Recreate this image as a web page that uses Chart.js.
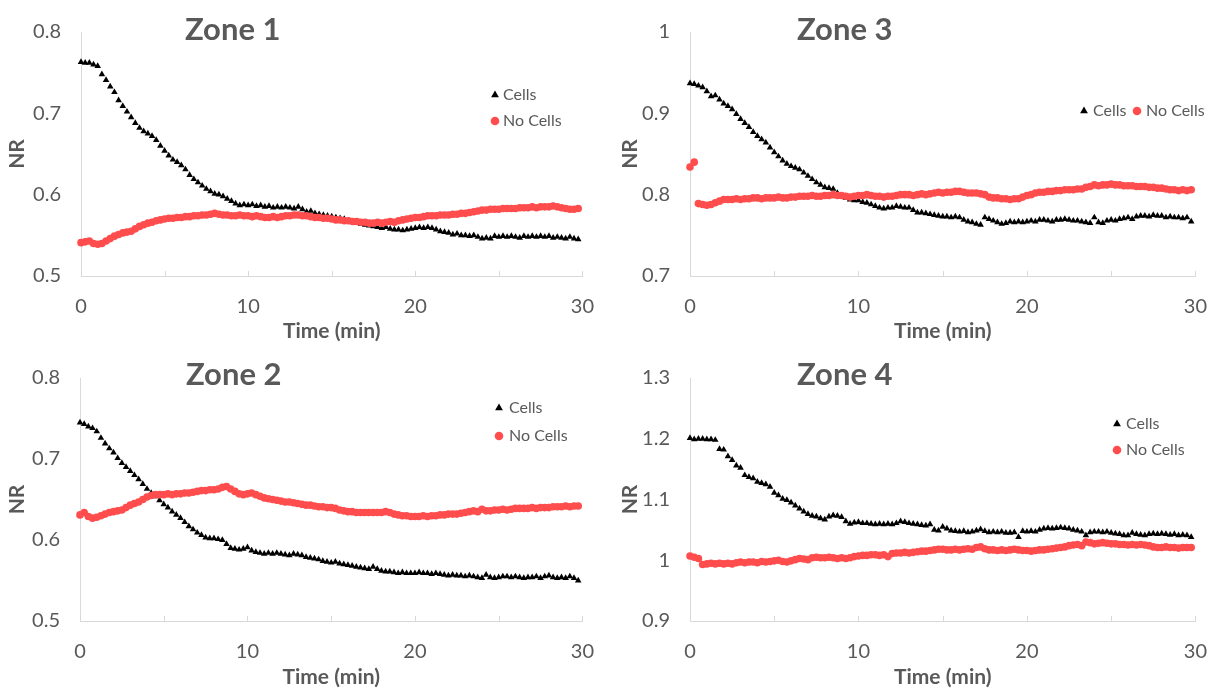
<!DOCTYPE html>
<html>
<head>
<meta charset="utf-8">
<script src="https://cdn.jsdelivr.net/npm/chart.js@4.4.1/dist/chart.umd.min.js"></script>
<style>
  html, body { margin: 0; padding: 0; background: #ffffff; }
  body { width: 1226px; height: 692px; position: relative; overflow: hidden; }
  canvas { position: absolute; }
</style>
</head>
<body>
<canvas id="zone1" width="613" height="346" style="left:0px;top:0px"></canvas>
<canvas id="zone3" width="613" height="346" style="left:613px;top:0px"></canvas>
<canvas id="zone2" width="613" height="346" style="left:0px;top:346px"></canvas>
<canvas id="zone4" width="613" height="346" style="left:613px;top:346px"></canvas>
<script>
// Sampling times (min), one reading every 15 s
const times = [
  0,0.25,0.5,0.75,1,1.25,1.5,1.75,2,2.25,2.5,2.75,3,3.25,3.5,3.75,4,4.25,4.5,4.75,
  5,5.25,5.5,5.75,6,6.25,6.5,6.75,7,7.25,7.5,7.75,8,8.25,8.5,8.75,9,9.25,9.5,9.75,
  10,10.25,10.5,10.75,11,11.25,11.5,11.75,12,12.25,12.5,12.75,13,13.25,13.5,13.75,14,14.25,14.5,14.75,
  15,15.25,15.5,15.75,16,16.25,16.5,16.75,17,17.25,17.5,17.75,18,18.25,18.5,18.75,19,19.25,19.5,19.75,
  20,20.25,20.5,20.75,21,21.25,21.5,21.75,22,22.25,22.5,22.75,23,23.25,23.5,23.75,24,24.25,24.5,24.75,
  25,25.25,25.5,25.75,26,26.25,26.5,26.75,27,27.25,27.5,27.75,28,28.25,28.5,28.75,29,29.25,29.5,29.75
];

const seriesNames = ['Cells', 'No Cells'];
const xTickLabels = [0, 10, 20, 30];

// Zone 1 normalized ratio
const zone1Cells = [
  .763,.762,.762,.760,.758,.748,.741,.733,.726,.716,
  .709,.702,.695,.688,.682,.678,.675,.672,.667,.660,
  .654,.648,.643,.640,.636,.631,.624,.619,.615,.611,
  .607,.604,.601,.600,.598,.595,.592,.589,.587,.588,
  .587,.588,.586,.587,.585,.586,.584,.585,.584,.585,
  .584,.583,.585,.582,.579,.580,.577,.576,.575,.574,
  .573,.572,.571,.570,.568,.567,.565,.564,.563,.562,
  .561,.560,.559,.560,.558,.557,.557,.556,.557,.558,
  .559,.560,.559,.560,.559,.557,.555,.554,.553,.551,
  .552,.550,.550,.549,.550,.548,.546,.547,.546,.549,
  .548,.549,.548,.549,.548,.547,.549,.548,.549,.548,
  .549,.548,.549,.547,.548,.547,.546,.548,.546,.545
];
const zone1NoCells = [
  .541,.542,.543,.540,.539,.540,.543,.546,.549,.551,
  .553,.554,.555,.558,.561,.563,.565,.566,.568,.569,
  .570,.571,.571,.572,.572,.573,.573,.574,.574,.575,
  .575,.576,.577,.576,.575,.575,.574,.574,.575,.574,
  .574,.573,.574,.573,.572,.572,.573,.572,.573,.574,
  .574,.575,.575,.574,.574,.573,.572,.572,.571,.571,
  .570,.569,.569,.568,.568,.567,.567,.566,.566,.565,
  .565,.566,.565,.566,.567,.566,.568,.569,.570,.571,
  .572,.572,.573,.574,.574,.574,.575,.575,.575,.576,
  .576,.577,.577,.578,.579,.580,.581,.581,.582,.582,
  .582,.583,.583,.583,.583,.584,.584,.584,.585,.584,
  .585,.585,.585,.586,.585,.584,.583,.582,.582,.583
];

// Zone 3 normalized ratio
const zone3Cells = [
  .937,.936,.934,.932,.927,.921,.922,.917,.912,.909,
  .905,.899,.893,.888,.883,.877,.872,.868,.864,.858,
  .852,.847,.842,.838,.835,.833,.831,.827,.823,.819,
  .815,.812,.809,.808,.807,.802,.798,.796,.794,.793,
  .793,.791,.790,.788,.786,.784,.783,.784,.784,.786,
  .785,.784,.784,.781,.778,.778,.777,.776,.775,.774,
  .773,.773,.772,.773,.772,.769,.767,.766,.764,.763,
  .772,.770,.768,.766,.764,.765,.767,.766,.767,.766,
  .767,.768,.767,.769,.769,.768,.767,.769,.769,.770,
  .769,.768,.768,.767,.766,.765,.772,.766,.765,.768,
  .769,.768,.770,.771,.772,.770,.773,.774,.774,.773,
  .775,.774,.774,.772,.773,.772,.772,.771,.772,.767
];
const zone3NoCells = [
  .834,.840,.789,.788,.787,.788,.790,.792,.794,.794,
  .794,.795,.794,.795,.795,.796,.796,.795,.796,.796,
  .796,.797,.796,.796,.797,.797,.798,.798,.798,.799,
  .798,.798,.799,.799,.800,.799,.799,.798,.797,.798,
  .799,.799,.800,.799,.798,.798,.797,.798,.798,.799,
  .800,.800,.800,.799,.800,.801,.800,.801,.802,.803,
  .802,.803,.803,.804,.804,.803,.802,.802,.802,.801,
  .800,.797,.796,.796,.795,.795,.794,.795,.795,.797,
  .799,.800,.802,.803,.803,.804,.804,.805,.805,.806,
  .806,.806,.807,.807,.809,.810,.812,.811,.812,.812,
  .813,.812,.812,.811,.811,.811,.810,.810,.810,.809,
  .809,.808,.808,.807,.806,.806,.805,.806,.805,.806
];

// Zone 2 normalized ratio
const zone2Cells = [
  .745,.743,.740,.738,.734,.726,.719,.713,.708,.701,
  .695,.690,.685,.680,.675,.669,.663,.658,.654,.649,
  .644,.640,.635,.631,.627,.622,.617,.613,.609,.606,
  .603,.602,.602,.601,.600,.595,.590,.589,.588,.589,
  .591,.587,.585,.584,.583,.584,.583,.584,.583,.582,
  .581,.583,.582,.581,.579,.578,.577,.576,.574,.573,
  .572,.573,.571,.570,.569,.568,.567,.566,.565,.564,
  .567,.564,.562,.561,.561,.560,.559,.560,.559,.559,
  .559,.560,.559,.559,.558,.559,.558,.557,.556,.557,
  .556,.556,.555,.556,.555,.554,.553,.557,.554,.553,
  .554,.555,.555,.554,.555,.554,.553,.554,.554,.555,
  .553,.555,.556,.554,.553,.554,.553,.555,.553,.550
];
const zone2NoCells = [
  .631,.634,.629,.627,.628,.630,.632,.634,.635,.636,
  .637,.640,.643,.645,.647,.650,.653,.655,.656,.656,
  .656,.657,.656,.657,.657,.658,.658,.659,.660,.661,
  .661,.662,.662,.663,.665,.666,.663,.660,.657,.656,
  .657,.658,.656,.654,.652,.651,.650,.649,.648,.647,
  .647,.646,.645,.644,.643,.643,.642,.641,.641,.640,
  .640,.639,.637,.636,.635,.635,.634,.634,.634,.634,
  .634,.634,.634,.635,.634,.632,.631,.630,.630,.629,
  .629,.629,.630,.629,.630,.630,.631,.631,.632,.632,
  .632,.633,.634,.635,.636,.635,.638,.636,.636,.637,
  .637,.638,.637,.638,.639,.639,.639,.639,.640,.639,
  .640,.640,.640,.641,.641,.641,.642,.641,.642,.642
];

// Zone 4 normalized ratio
const zone4Cells = [
  1.201,1.199,1.200,1.200,1.199,1.199,1.198,1.183,1.182,1.171,
  1.165,1.156,1.152,1.140,1.137,1.135,1.129,1.127,1.125,1.121,
  1.111,1.107,1.101,1.099,1.095,1.090,1.085,1.080,1.076,1.073,
  1.072,1.069,1.067,1.072,1.074,1.073,1.071,1.064,1.060,1.062,
  1.063,1.061,1.061,1.060,1.059,1.060,1.059,1.060,1.059,1.061,
  1.064,1.063,1.061,1.060,1.059,1.058,1.057,1.059,1.050,1.049,
  1.055,1.052,1.049,1.048,1.047,1.048,1.046,1.047,1.049,1.051,
  1.048,1.046,1.047,1.046,1.047,1.045,1.045,1.046,1.038,1.048,
  1.047,1.048,1.047,1.050,1.052,1.053,1.052,1.053,1.054,1.053,
  1.052,1.050,1.049,1.047,1.041,1.046,1.047,1.047,1.046,1.047,
  1.045,1.044,1.043,1.041,1.041,1.045,1.043,1.042,1.041,1.043,
  1.044,1.043,1.044,1.043,1.042,1.043,1.041,1.042,1.041,1.038
];
const zone4NoCells = [
  1.007,1.005,1.003,0.993,0.994,0.995,0.994,0.995,0.994,0.995,
  0.994,0.996,0.997,0.996,0.997,0.997,0.996,0.998,0.997,0.998,
  0.999,1.000,0.998,0.997,0.999,1.001,1.003,1.002,1.001,1.004,
  1.005,1.004,1.004,1.005,1.004,1.003,1.004,1.003,1.004,1.006,
  1.007,1.008,1.008,1.009,1.009,1.008,1.009,1.006,1.011,1.012,
  1.012,1.013,1.012,1.013,1.014,1.015,1.015,1.016,1.017,1.018,
  1.018,1.017,1.017,1.018,1.017,1.018,1.019,1.018,1.021,1.022,
  1.019,1.017,1.017,1.016,1.017,1.016,1.017,1.018,1.017,1.016,
  1.016,1.015,1.016,1.017,1.017,1.018,1.019,1.020,1.021,1.022,
  1.024,1.025,1.026,1.024,1.030,1.029,1.027,1.028,1.029,1.028,
  1.027,1.027,1.026,1.026,1.025,1.026,1.025,1.026,1.025,1.024,
  1.022,1.021,1.021,1.022,1.021,1.021,1.020,1.021,1.021,1.021
];

// Y axis ranges [min, max] per zone
const zone1Range = [0.5, 0.8];
const zone2Range = [0.5, 0.8];
const zone3Range = [0.7, 1.0];
const zone4Range = [0.9, 1.3];

const FONT = 'Lato, "Open Sans", "DejaVu Sans", sans-serif';
const TEXT = '#595959';
const AXIS = '#d9d9d9';
const CELLS_COLOR = '#000000';
const NOCELLS_COLOR = '#ff4d4d';

// Panel decorations: zone title, minor ticks on the time axis, inset legend
const panelDecor = {
  id: 'panelDecor',
  beforeDatasetsDraw(chart) {
    const x = chart.scales.x;
    const ctx = chart.ctx;
    ctx.save();
    ctx.strokeStyle = AXIS;
    ctx.lineWidth = 1;
    x.ticks.forEach((t) => {
      const px = Math.round(x.getPixelForValue(t.value)) + 0.5;
      ctx.beginPath();
      ctx.moveTo(px, chart.chartArea.bottom);
      ctx.lineTo(px, chart.chartArea.bottom - 5);
      ctx.stroke();
    });
    ctx.restore();
  },
  afterDraw(chart, args, opts) {
    const ctx = chart.ctx;
    ctx.save();
    // zone title
    ctx.fillStyle = TEXT;
    ctx.font = 'bold 31px ' + FONT;
    ctx.textAlign = 'left';
    ctx.textBaseline = 'middle';
    ctx.fillText(opts.title, opts.titleX, opts.titleY);

    // legend entries use each dataset's own marker style and label
    const ds = chart.data.datasets;
    opts.legend.forEach((item, i) => {
      const d = ds[i];
      ctx.fillStyle = d.backgroundColor;
      ctx.beginPath();
      if (d.pointStyle === 'triangle') {
        const r = 4.5;
        ctx.moveTo(item.mx, item.my - r);
        ctx.lineTo(item.mx + r * 0.866, item.my + r * 0.5);
        ctx.lineTo(item.mx - r * 0.866, item.my + r * 0.5);
        ctx.closePath();
      } else {
        ctx.arc(item.mx, item.my, 4.3, 0, Math.PI * 2);
      }
      ctx.fill();
      ctx.fillStyle = TEXT;
      ctx.font = '16px ' + FONT;
      ctx.textAlign = 'left';
      ctx.textBaseline = 'middle';
      ctx.fillText(d.label, item.tx, item.my);
    });
    ctx.restore();
  }
};

function makePanel(id, cells, noCells, range, layout) {
  const toPoints = (vals) => times.map((t, i) => ({ x: t, y: vals[i] }));
  return new Chart(document.getElementById(id), {
    type: 'scatter',
    data: {
      datasets: [
        {
          label: seriesNames[0],
          data: toPoints(cells),
          pointStyle: 'triangle',
          pointRadius: 3.8,
          pointHoverRadius: 3.8,
          backgroundColor: CELLS_COLOR,
          borderColor: CELLS_COLOR,
          borderWidth: 0,
          order: 2,
          clip: false
        },
        {
          label: seriesNames[1],
          data: toPoints(noCells),
          pointStyle: 'circle',
          pointRadius: 3.8,
          pointHoverRadius: 3.8,
          backgroundColor: NOCELLS_COLOR,
          borderColor: NOCELLS_COLOR,
          borderWidth: 0,
          order: 1,
          clip: false
        }
      ]
    },
    options: {
      responsive: false,
      animation: false,
      devicePixelRatio: 1,
      events: [],
      layout: { padding: { left: 0, right: layout.right, top: layout.top, bottom: 0 } },
      plugins: {
        legend: { display: false },
        tooltip: { enabled: false },
        panelDecor: {
          title: layout.title,
          titleX: layout.titleX,
          titleY: layout.titleY,
          legend: layout.legend
        }
      },
      scales: {
        x: {
          type: 'linear',
          min: 0,
          max: 30,
          afterFit: (s) => { s.height = layout.xHeight; },
          ticks: {
            stepSize: 5,
            padding: 19,
            color: TEXT,
            font: { family: FONT, size: 20 },
            maxRotation: 0,
            autoSkip: false,
            callback: (v) => (xTickLabels.includes(v) ? String(v) : '')
          },
          grid: { drawOnChartArea: false, drawTicks: false },
          border: { display: true, color: AXIS, width: 1 },
          title: {
            display: true,
            text: 'Time (min)',
            color: TEXT,
            font: { family: FONT, size: 21, weight: 'bold' },
            padding: { top: 0, bottom: 2 }
          }
        },
        y: {
          type: 'linear',
          min: range[0],
          max: range[1],
          afterFit: (s) => { s.width = layout.yWidth; },
          ticks: {
            stepSize: 0.1,
            padding: 20,
            color: TEXT,
            font: { family: FONT, size: 20 },
            callback: (v) => String(Number(v.toFixed(2)))
          },
          grid: { drawOnChartArea: false, drawTicks: false },
          border: { display: true, color: AXIS, width: 1 },
          title: {
            display: true,
            text: 'NR',
            color: TEXT,
            font: { family: FONT, size: 21, weight: 'bold' },
            padding: { top: 5, bottom: 0 }
          }
        }
      }
    },
    plugins: [panelDecor]
  });
}

makePanel('zone1', zone1Cells, zone1NoCells, zone1Range, {
  yWidth: 81, right: 22, top: 18, xHeight: 70,
  title: 'Zone 1', titleX: 185, titleY: 30,
  legend: [{ mx: 495, my: 95, tx: 503 }, { mx: 495, my: 121, tx: 503 }]
});
makePanel('zone3', zone3Cells, zone3NoCells, zone3Range, {
  yWidth: 77, right: 25, top: 18, xHeight: 70,
  title: 'Zone 3', titleX: 184, titleY: 30,
  legend: [{ mx: 471, my: 111, tx: 480 }, { mx: 524, my: 111, tx: 533 }]
});
makePanel('zone2', zone2Cells, zone2NoCells, zone2Range, {
  yWidth: 80, right: 23, top: 18, xHeight: 71,
  title: 'Zone 2', titleX: 186, titleY: 29,
  legend: [{ mx: 499, my: 62, tx: 509 }, { mx: 499, my: 90, tx: 509 }]
});
makePanel('zone4', zone4Cells, zone4NoCells, zone4Range, {
  yWidth: 77, right: 25, top: 18, xHeight: 71,
  title: 'Zone 4', titleX: 184, titleY: 29,
  legend: [{ mx: 504, my: 78, tx: 513 }, { mx: 504, my: 104, tx: 513 }]
});
</script>
</body>
</html>
